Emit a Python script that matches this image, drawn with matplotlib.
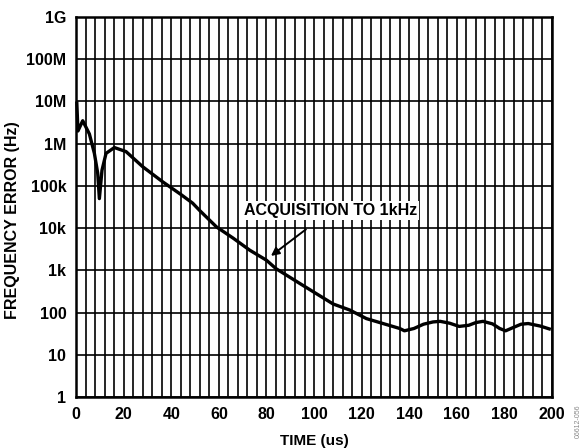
import matplotlib
matplotlib.use("Agg")
import matplotlib.pyplot as plt
from matplotlib.ticker import FixedLocator, MultipleLocator

plt.rcParams["font.family"] = ["Liberation Sans", "DejaVu Sans"]

# frequency error vs time
time_us = [0.3, 0.8, 2.8, 5.6, 7.7, 9.1, 9.8, 10.9, 12.6, 16.1, 21, 28, 36.4, 44, 49, 52,
           59, 66, 73, 80, 84, 94, 101, 108, 115, 122, 129, 136, 138, 142, 146, 150, 153,
           157, 161, 165, 168, 171, 175, 178, 180.5, 184, 187, 190, 195, 199.5]
freq_err = [10e6, 2.0e6, 3.5e6, 1.7e6, 590e3, 200e3, 50e3, 235e3, 590e3, 810e3, 650e3,
            285e3, 125e3, 63e3, 39e3, 26e3, 10.7e3, 5.8e3, 3.0e3, 1.74e3, 1.1e3, 490, 280,
            160, 115, 72, 55, 42, 37, 42, 53, 60, 62, 56, 47, 50, 58, 62, 54, 42, 37, 45,
            53, 55, 48, 40]

y_ticks = [1, 10, 100, 1e3, 1e4, 1e5, 1e6, 1e7, 1e8, 1e9]
y_labels = ["1", "10", "100", "1k", "10k", "100k", "1M", "10M", "100M", "1G"]
x_ticks = [0, 20, 40, 60, 80, 100, 120, 140, 160, 180, 200]

fig = plt.figure(figsize=(5.85, 4.48), dpi=100)
ax = fig.add_axes([0.130, 0.1138, 0.8136, 0.8482])

ax.set_yscale("log")
ax.set_xlim(0, 200)
ax.set_ylim(1, 1e9)
ax.yaxis.set_major_locator(FixedLocator(y_ticks))
ax.yaxis.set_minor_locator(FixedLocator([]))
ax.set_yticks(y_ticks)
ax.set_yticklabels(y_labels)
ax.set_xticks(x_ticks)
ax.xaxis.set_minor_locator(MultipleLocator(4))

ax.grid(True, which="major", axis="y", color="black", lw=1.2)
ax.grid(True, which="both", axis="x", color="black", lw=1.2)
ax.tick_params(which="both", length=0, labelsize=11.5, pad=7)
for lab in ax.get_xticklabels() + ax.get_yticklabels():
    lab.set_fontweight("bold")
for s in ax.spines.values():
    s.set_linewidth(1.8)

ax.plot(time_us, freq_err, color="black", lw=2.4, zorder=3, clip_on=False,
        solid_joinstyle="round", solid_capstyle="butt")

ax.annotate("ACQUISITION TO 1kHz", xy=(81.9, 2.2e3), xytext=(107, 2.6e4),
            fontsize=11.5, fontweight="bold", ha="center", va="center",
            bbox=dict(facecolor="white", edgecolor="none", pad=1.5),
            arrowprops=dict(arrowstyle="-|>", color="black", lw=1.4,
                            shrinkA=11, shrinkB=0, mutation_scale=12),
            zorder=4)

ax.set_xlabel("TIME (us)", fontsize=11, fontweight="bold")
ax.xaxis.set_label_coords(0.5, -0.097)
ax.set_ylabel("FREQUENCY ERROR (Hz)", fontsize=11.5, fontweight="bold")
ax.yaxis.set_label_coords(-0.118, 0.466)

fig.text(0.988, 0.06, "06612-056", rotation=90, fontsize=5, color="#888888",
         ha="center", va="center")

fig.savefig("out.png", dpi=100)
